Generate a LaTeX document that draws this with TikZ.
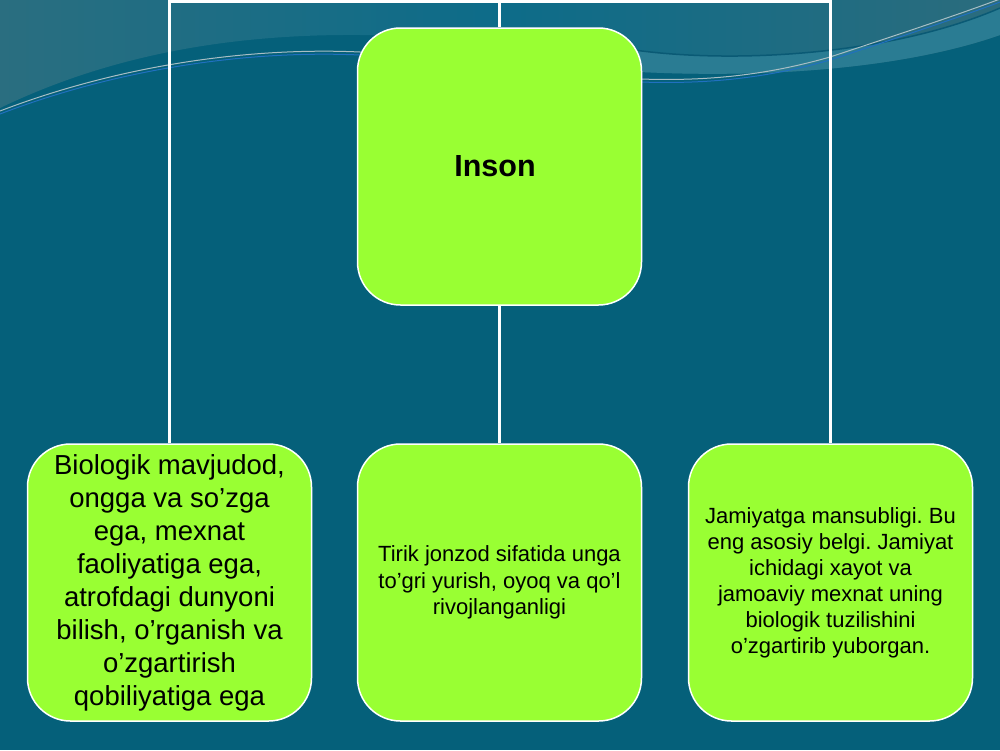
\documentclass[tikz,border=0pt]{standalone}
\usepackage{fontspec}
\setmainfont{Liberation Sans}
\frenchspacing
\definecolor{bg}{HTML}{05607A}
\definecolor{topmid}{HTML}{0D6C89}
\definecolor{topleft}{HTML}{2A6E80}
\definecolor{topright}{HTML}{2B6C7D}
\definecolor{ribbon}{HTML}{2A7C93}
\definecolor{darkedge}{HTML}{0A5A75}
\definecolor{lightline}{HTML}{A8BEC4}
\definecolor{blueline}{HTML}{2070C0}
\definecolor{boxgreen}{HTML}{99FF33}
\begin{document}
\begin{tikzpicture}[x=1pt,y=-1pt,
  box/.style={draw=white, line width=1.5pt, fill=boxgreen, rounded corners=43pt,
    minimum width=284pt, minimum height=277pt, align=center, text=black, inner sep=0pt},
  conn/.style={draw=white, line width=2.5pt}]
\useasboundingbox (0,0) rectangle (1000,750);
\fill[bg] (0,0) rectangle (1000,750);
% top lighter region
\shade[left color=topleft, right color=topright, middle color=topmid]
  (0,0) -- (1000,0) -- (1000,35) .. controls (900,70) and (760,78) .. (640,72)
  .. controls (560,66) and (480,36) .. (360,35)
  .. controls (230,34) and (110,55) .. (0,108) -- cycle;
% ribbon
\fill[ribbon] (600,44) .. controls (700,66) and (880,60) .. (1000,8) -- (1000,35)
  .. controls (900,70) and (760,78) .. (640,72) .. controls (620,70) and (610,66) .. (600,62) -- cycle;
\draw[darkedge, line width=1.5pt] (600,44) .. controls (700,66) and (880,60) .. (1000,8);
% thin lines
\draw[blueline, line width=1pt] (0,114) .. controls (120,68) and (250,50) .. (360,55)
  .. controls (480,58) and (560,80) .. (640,82) .. controls (700,84) and (760,80) .. (830,60)
  .. controls (900,37) and (960,17) .. (1000,2);
\draw[lightline, line width=1pt] (0,111) .. controls (120,65) and (250,47) .. (360,52)
  .. controls (480,55) and (560,77) .. (640,79) .. controls (700,81) and (760,77) .. (830,57)
  .. controls (900,34) and (960,14) .. (1000,-1);
% boxes
\node[box, font=\bfseries\fontsize{30.5}{36}\selectfont] (top) at (499.5,166.5) {\hspace*{-9pt}\raisebox{-2pt}{Inson}};
\node[box, font=\fontsize{27.5}{33}\selectfont] (left) at (169.5,582.5)
  {Biologik mavjudod,\\ ongga va so’zga\\ ega, mexnat\\ faoliyatiga ega,\\ atrofdagi dunyoni\\ bilish, o’rganish va\\ o’zgartirish\\ qobiliyatiga ega};
\node[box, font=\fontsize{22}{26.7}\selectfont] (mid) at (499.5,582.5)
  {Tirik jonzod sifatida unga\\ to’gri yurish, oyoq va qo’l\\ rivojlanganligi};
\node[box, font=\fontsize{22}{26}\selectfont] (right) at (830.5,582.5)
  {Jamiyatga mansubligi. Bu\\ eng asosiy belgi. Jamiyat\\ ichidagi xayot va\\ jamoaviy mexnat uning\\ biologik tuzilishini\\ o’zgartirib yuborgan.};
% connectors
\coordinate (topline) at (500,1.5);
\draw[conn] (left.north) -- (left.north |- topline) -- (right.north |- topline) -- (right.north);
\draw[conn] (top.north |- topline) -- (top.north);
\draw[conn] (top.south) -- (mid.north);
\end{tikzpicture}
\end{document}
